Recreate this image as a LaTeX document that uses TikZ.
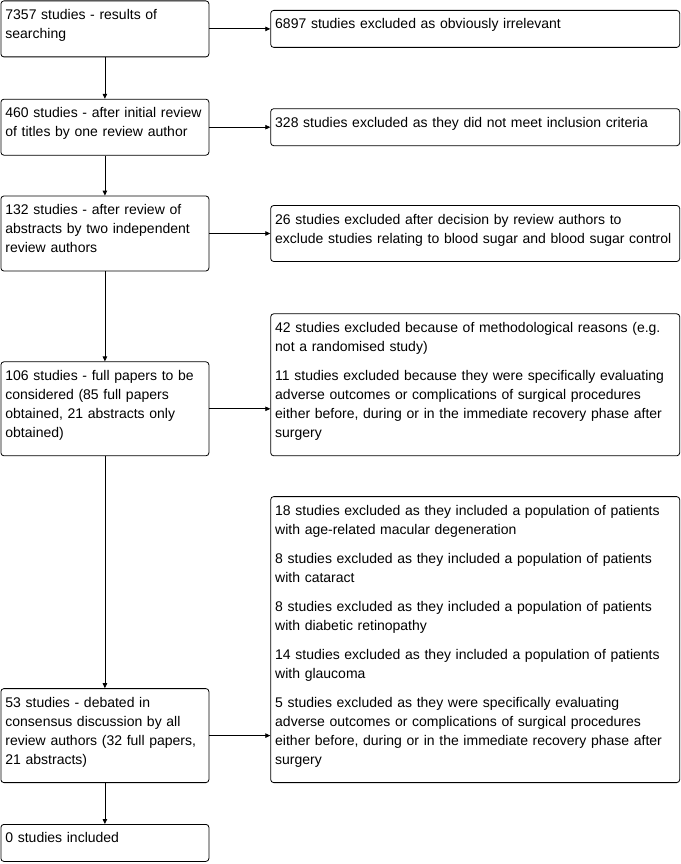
\documentclass[tikz,border=0pt]{standalone}
\usepackage{fontspec}
\setmainfont{Liberation Sans}
\usetikzlibrary{arrows.meta,positioning}
\tikzset{
  stage/.style={rectangle, rounded corners=3pt, draw=black, line width=0.8pt, fill=white,
                anchor=north west, align=left, font=\fontsize{14}{19}\selectfont,
                inner xsep=4.5pt, inner ysep=0pt, text width=199pt,
                execute at begin node=\rule{0pt}{18.5pt},
                execute at end node=\rule[-18.5pt]{0pt}{18.5pt}},
  excl/.style={stage, text width=400pt},
  fl/.style={-{Triangle[length=5pt,width=4.5pt]}, draw=black, line width=0.8pt}
}

\begin{document}
\begin{tikzpicture}[x=1pt, y=1pt, node distance=41pt and 61pt]
  \useasboundingbox (0,0) rectangle (680,-864);
  \node[stage] (s1) at (0.5,-0.5) {7357 studies - results of\\searching};
  \node[stage, below=41.5pt of s1] (s2) {460 studies - after initial review\\of titles by one review author};
  \node[stage, below=40pt of s2] (s3) {132 studies - after review of\\abstracts by two independent\\review authors};
  \node[stage, below=90pt of s3] (s4) {106 studies - full papers to be\\considered (85 full papers\\obtained, 21 abstracts only\\obtained)};
  \node[stage, below=232pt of s4] (s5) {53 studies - debated in\\consensus discussion by all\\review authors (32 full papers,\\21 abstracts)};
  \node[stage, below=41pt of s5] (s6) {0 studies included};

  \node[excl, right=of s1] (x1) {6897 studies excluded as obviously irrelevant};
  \node[excl, right=of s2] (x2) {328 studies excluded as they did not meet inclusion criteria};
  \node[excl, right=of s3] (x3) {26 studies excluded after decision by review authors to\\exclude studies relating to blood sugar and blood sugar control};
  \node[excl, anchor=south west] (x4) at ([xshift=61pt]s4.south east) {%
    42 studies excluded because of methodological reasons (e.g.\\
    not a randomised study)\\[10pt]
    11 studies excluded because they were specifically evaluating\\
    adverse outcomes or complications of surgical procedures\\
    either before, during or in the immediate recovery phase after\\
    surgery};
  \node[excl, anchor=south west] (x5) at ([xshift=61pt]s5.south east) {%
    18 studies excluded as they included a population of patients\\
    with age-related macular degeneration\\[10pt]
    8 studies excluded as they included a population of patients\\
    with cataract\\[10pt]
    8 studies excluded as they included a population of patients\\
    with diabetic retinopathy\\[10pt]
    14 studies excluded as they included a population of patients\\
    with glaucoma\\[10pt]
    5 studies excluded as they were specifically evaluating\\
    adverse outcomes or complications of surgical procedures\\
    either before, during or in the immediate recovery phase after\\
    surgery};

  \foreach \a/\b in {s1/s2,s2/s3,s3/s4,s4/s5,s5/s6}
     \draw[fl] (\a)--(\b);
  \foreach \i in {1,2,3}
     \draw[fl] (s\i)--(x\i);
  \draw[fl] (s4.east) -- (s4.east -| x4.west);
  \draw[fl] (s5.east) -- (s5.east -| x5.west);
\end{tikzpicture}
\end{document}
